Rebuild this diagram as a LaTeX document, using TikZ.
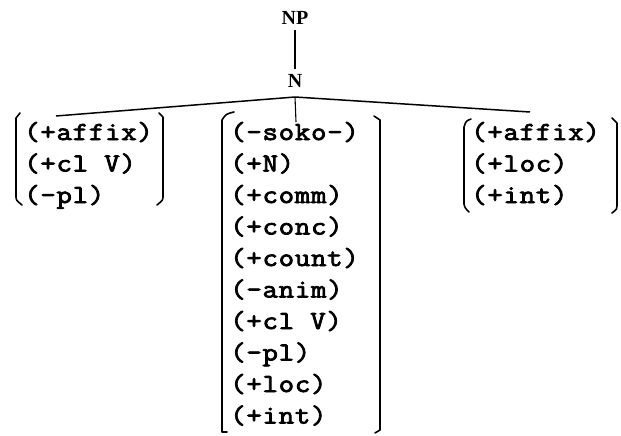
\documentclass[tikz,border=0pt]{standalone}
\usepackage{fontspec}
\usetikzlibrary{calc}
\newfontfamily\tw[FakeStretch=1.15,LetterSpace=3,FakeBold=3]{Latin Modern Mono}
\newfontfamily\tser{Liberation Serif}
\begin{document}
\begin{tikzpicture}[x=1pt,y=-1pt,
  feat/.style={anchor=base west,inner sep=0pt,font=\tw\fontsize{26}{26}\selectfont},
  cat/.style={inner sep=0pt,font=\tser\bfseries\fontsize{20}{20}\selectfont},
  branch/.style={line width=1.5pt},
  brk/.style={line width=1.6pt,line cap=round,line join=round}]
\useasboundingbox (0,0) rectangle (621,436);
\node[cat] (NP) at (295,18) {NP};
\node[cat] (N) at (295,81) {N};
\coordinate (apex) at (295,97);
\coordinate (lend) at (56,116);
\coordinate (rend) at (530,112);
\coordinate (mend) at (296,122);
\draw[line width=1.1pt] ($(NP.south)+(0,5)$) -- ($(N.north)+(0,-5)$);
\draw[branch] (apex) -- (lend);
\draw[branch] (apex) -- (rend);
\draw[line width=1.1pt] (apex) -- (mend);
% left group
\foreach \t [count=\i] in {(+affix),(+cl V),(-pl)}
  \node[feat] (l\i) at (24,{140+31.5*(\i-1)}) {\t};
% middle group
\foreach \t [count=\i] in {(-soko-),(+N),(+comm),(+conc),(+count),(-anim),(+cl V),(-pl),(+loc),(+int)}
  \node[feat] (m\i) at (230,{140+31.5*(\i-1)}) {\t};
% right group
\foreach \t [count=\i] in {(+affix),(+loc),(+int)}
  \node[feat] (r\i) at (471,{140+31.5*(\i-1)}) {\t};
% brackets left group
\draw[brk] (20,113) -- (16,118) -- (16,196) .. controls (16,200) .. (22,205);
\draw[brk] (159,113) -- (163,117) -- (163,196) .. controls (163,200) .. (157,205);
% brackets middle group
\draw[brk] (234,112) .. controls (226,114) .. (222,120) -- (222,432) -- (227,432);
\draw[brk] (374,116) -- (380,120) -- (380,430) -- (375,433);
% brackets right group
\draw[brk] (471,119) .. controls (466,121) .. (464,127) -- (464,204) .. controls (465,208) .. (469,212);
\draw[brk] (612,118) -- (617,123) -- (617,206) .. controls (617,209) .. (612,213);
\end{tikzpicture}
\end{document}
